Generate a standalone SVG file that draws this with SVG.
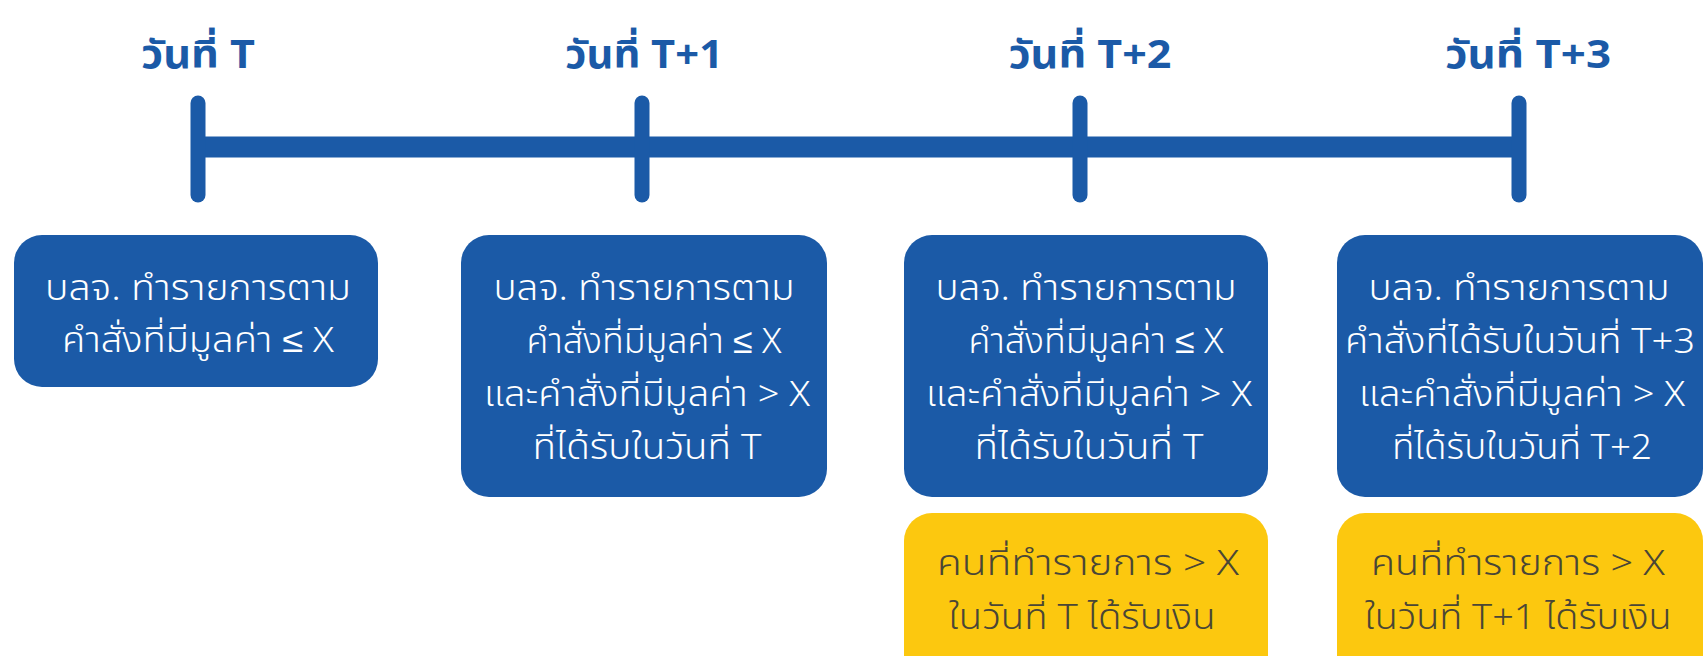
<svg xmlns="http://www.w3.org/2000/svg" width="1704" height="656" viewBox="0 0 1704 656">
<style>
.bg{fill:#ffffff}
.blue{fill:#1b5aa7}
.yel{fill:#fcc80f}
.hd{font-family:"Noto Sans Thai","Noto Sans Thai UI","Noto Sans","DejaVu Sans",sans-serif;font-size:39px;font-weight:bold;fill:#1b5aa7;text-anchor:middle}
.bt{font-family:"Noto Sans Thai","Noto Sans Thai UI","Noto Sans","DejaVu Sans",sans-serif;font-size:35px;font-weight:300;fill:#ffffff;text-anchor:middle}
.yt{font-family:"Noto Sans Thai","Noto Sans Thai UI","Noto Sans","DejaVu Sans",sans-serif;font-size:35px;font-weight:300;fill:#4a4636;text-anchor:middle}
.tick{stroke:#1b5aa7;stroke-width:15;stroke-linecap:round}
</style>
<rect class="bg" x="0" y="0" width="1704" height="656"/>
<g id="timeline">
<line x1="198" y1="147" x2="1519" y2="147" stroke="#1b5aa7" stroke-width="21"/>
<line class="tick" x1="198" y1="103" x2="198" y2="195"/>
<line class="tick" x1="642" y1="103" x2="642" y2="195"/>
<line class="tick" x1="1080" y1="103" x2="1080" y2="195"/>
<line class="tick" x1="1519" y1="103" x2="1519" y2="195"/>
</g>
<g id="labels">
<text class="hd" x="198" y="68" textLength="114" lengthAdjust="spacingAndGlyphs">วันที่ T</text>
<text class="hd" x="644" y="68" textLength="158" lengthAdjust="spacingAndGlyphs">วันที่ T+1</text>
<text class="hd" x="1090" y="68" textLength="163" lengthAdjust="spacingAndGlyphs">วันที่ T+2</text>
<text class="hd" x="1528" y="68" textLength="166" lengthAdjust="spacingAndGlyphs">วันที่ T+3</text>
</g>
<g id="box1">
<rect class="blue" x="14" y="235" width="364" height="152" rx="28"/>
<text class="bt" x="198" y="300" textLength="306" lengthAdjust="spacingAndGlyphs">บลจ. ทำรายการตาม</text>
<text class="bt" x="198" y="352" textLength="272" lengthAdjust="spacingAndGlyphs">คำสั่งที่มีมูลค่า ≤ X</text>
</g>
<g id="box2">
<rect class="blue" x="461" y="235" width="366" height="262" rx="28"/>
<text class="bt" x="644" y="300" textLength="301" lengthAdjust="spacingAndGlyphs">บลจ. ทำรายการตาม</text>
<text class="bt" x="654" y="353" textLength="255" lengthAdjust="spacingAndGlyphs">คำสั่งที่มีมูลค่า ≤ X</text>
<text class="bt" x="647" y="406" textLength="326" lengthAdjust="spacingAndGlyphs">และคำสั่งที่มีมูลค่า &gt; X</text>
<text class="bt" x="647" y="459" textLength="229" lengthAdjust="spacingAndGlyphs">ที่ได้รับในวันที่ T</text>
</g>
<g id="box3">
<rect class="blue" x="904" y="235" width="364" height="262" rx="28"/>
<text class="bt" x="1086" y="300" textLength="301" lengthAdjust="spacingAndGlyphs">บลจ. ทำรายการตาม</text>
<text class="bt" x="1096" y="353" textLength="255" lengthAdjust="spacingAndGlyphs">คำสั่งที่มีมูลค่า ≤ X</text>
<text class="bt" x="1089" y="406" textLength="326" lengthAdjust="spacingAndGlyphs">และคำสั่งที่มีมูลค่า &gt; X</text>
<text class="bt" x="1089" y="459" textLength="229" lengthAdjust="spacingAndGlyphs">ที่ได้รับในวันที่ T</text>
</g>
<g id="box4">
<rect class="blue" x="1337" y="235" width="366" height="262" rx="28"/>
<text class="bt" x="1519" y="300" textLength="301" lengthAdjust="spacingAndGlyphs">บลจ. ทำรายการตาม</text>
<text class="bt" x="1520" y="353" textLength="350" lengthAdjust="spacingAndGlyphs">คำสั่งที่ได้รับในวันที่ T+3</text>
<text class="bt" x="1522" y="406" textLength="326" lengthAdjust="spacingAndGlyphs">และคำสั่งที่มีมูลค่า &gt; X</text>
<text class="bt" x="1522" y="459" textLength="260" lengthAdjust="spacingAndGlyphs">ที่ได้รับในวันที่ T+2</text>
</g>
<g id="note3">
<rect class="yel" x="904" y="513" width="364" height="180" rx="28"/>
<text class="yt" x="1088" y="575" textLength="302" lengthAdjust="spacingAndGlyphs">คนที่ทำรายการ &gt; X</text>
<text class="yt" x="1082" y="629" textLength="267" lengthAdjust="spacingAndGlyphs">ในวันที่ T ได้รับเงิน</text>
</g>
<g id="note4">
<rect class="yel" x="1337" y="513" width="366" height="180" rx="28"/>
<text class="yt" x="1518" y="575" textLength="294" lengthAdjust="spacingAndGlyphs">คนที่ทำรายการ &gt; X</text>
<text class="yt" x="1518" y="629" textLength="307" lengthAdjust="spacingAndGlyphs">ในวันที่ T+1 ได้รับเงิน</text>
</g>
<g id="connectors"></g>
</svg>
